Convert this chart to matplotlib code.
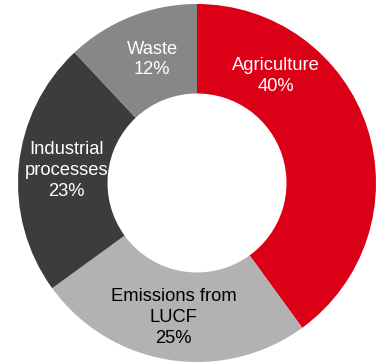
import matplotlib.pyplot as plt

labels = ['Agriculture', 'Emissions from\nLUCF', 'Industrial\nprocesses', 'Waste']
shares = [40, 25, 23, 12]
colors = ['#DC0017', '#B2B2B2', '#3C3C3C', '#878787']
text_colors = ['white', 'black', 'white', 'white']
# where each label sits, in units of the outer radius
label_pos = [(0.44, 0.60), (-0.13, -0.75), (-0.73, 0.07), (-0.25, 0.69)]

plt.rcParams['font.family'] = ['Liberation Sans', 'DejaVu Sans']

fig = plt.figure(figsize=(3.77, 3.63), dpi=100)
ax = fig.add_axes([0, 0, 1, 1])

ax.pie(shares, colors=colors, startangle=90, counterclock=False, radius=1.0,
       wedgeprops=dict(width=0.5, linewidth=0))

for lab, val, c, (x, y) in zip(labels, shares, text_colors, label_pos):
    ax.text(x, y, f'{lab}\n{val}%', ha='center', va='center', color=c,
            fontsize=13.2, linespacing=1.3)

ax.set_aspect('auto')
ax.set_xlim(-1.1006, 1.0056)
ax.set_ylim(-1.0056, 1.0223)
ax.axis('off')

fig.savefig('out.png', dpi=100)
